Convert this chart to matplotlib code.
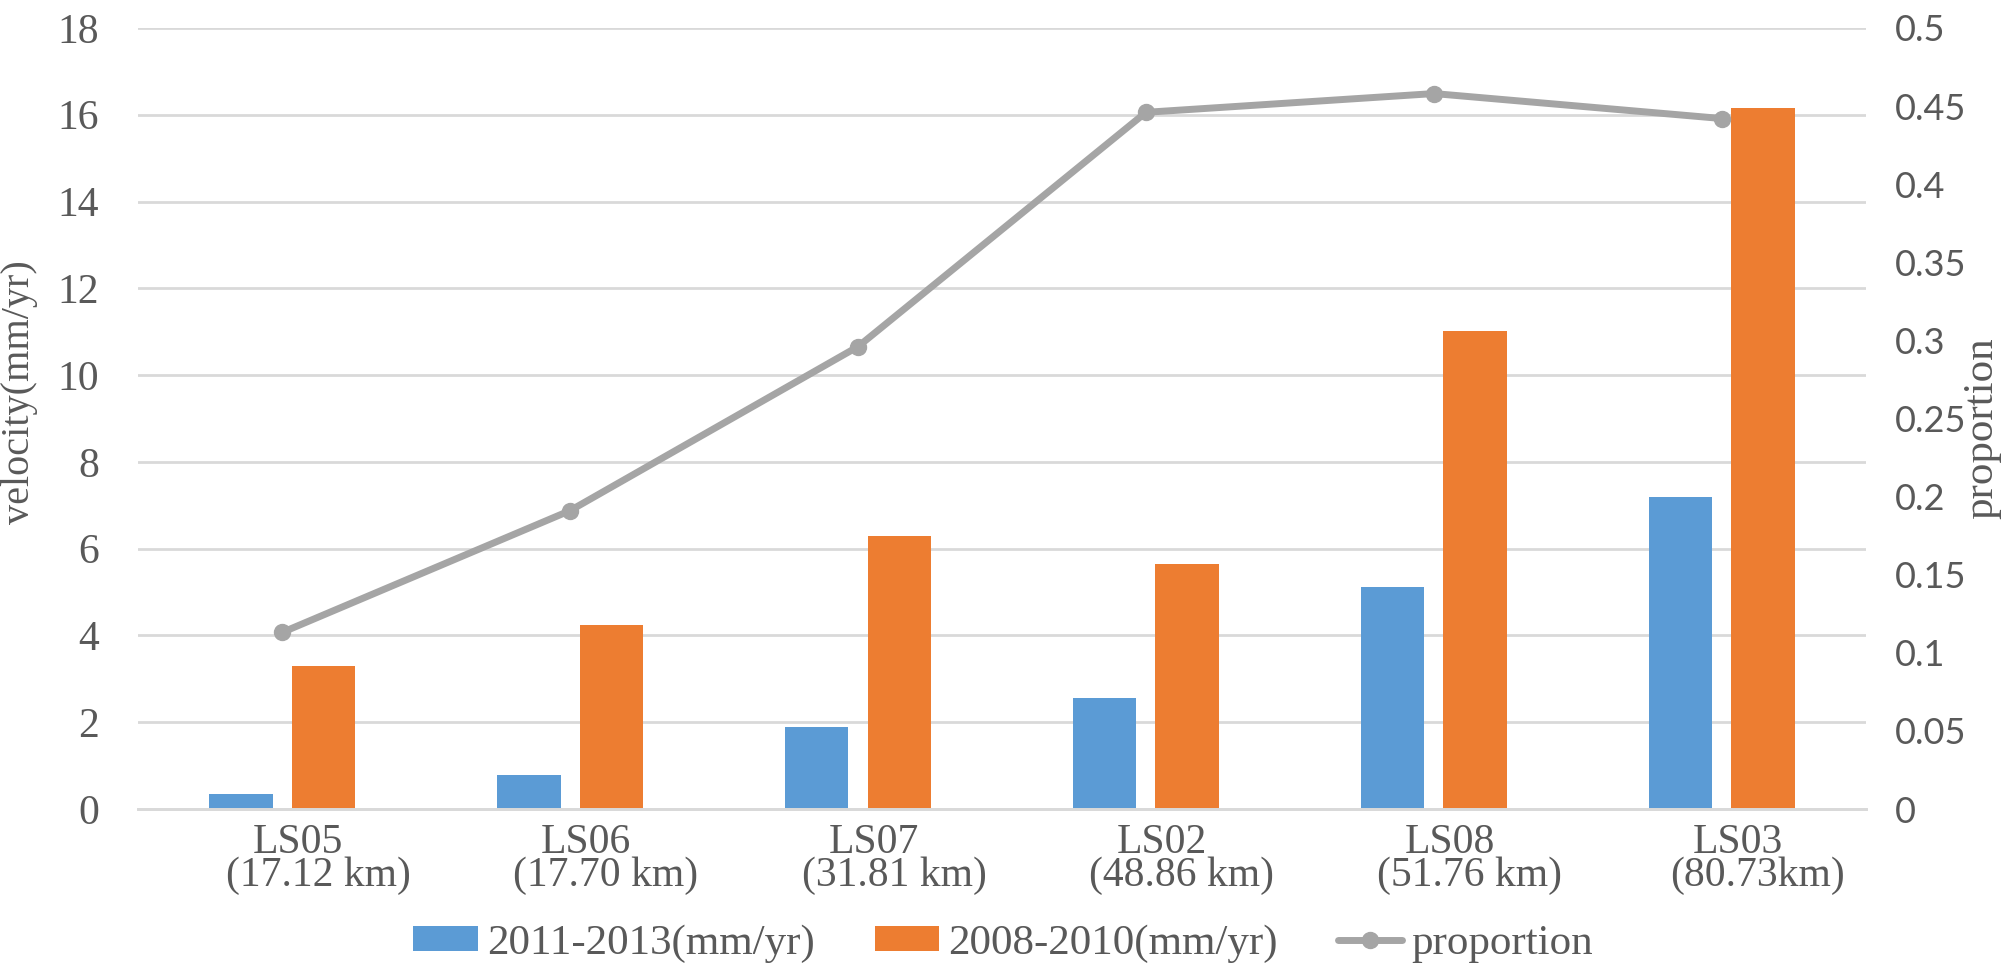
import numpy as np
import matplotlib
matplotlib.use('Agg')
import matplotlib.pyplot as plt
import matplotlib.transforms as mtransforms

# data
sites = ['LS05', 'LS06', 'LS07', 'LS02', 'LS08', 'LS03']
dists = ['(17.12 km)', '(17.70 km)', '(31.81 km)', '(48.86 km)', '(51.76 km)', '(80.73km)']
vel_2011_2013 = [0.35, 0.79, 1.88, 2.55, 5.12, 7.18]
vel_2008_2010 = [3.29, 4.24, 6.30, 5.65, 11.02, 16.15]
proportion = [0.113, 0.191, 0.296, 0.446, 0.458, 0.442]
left_ticks = [0, 2, 4, 6, 8, 10, 12, 14, 16, 18]
right_ticks = [0, 0.05, 0.1, 0.15, 0.2, 0.25, 0.3, 0.35, 0.4, 0.45, 0.5]

BLUE = '#5B9BD5'
ORANGE = '#ED7D31'
GRAY = '#A5A5A5'
TXT = '#595959'
GRID = '#D9D9D9'
SERIF = 'Liberation Serif'
SANS = 'Lato'

fig = plt.figure(figsize=(20.06, 9.74), dpi=100)
ax = fig.add_axes([0.0688, 0.1694, 0.8614, 0.8019])
ax2 = ax.twinx()

x = np.arange(len(sites))
w = 0.222
off = 0.144
ax.bar(x - off, vel_2011_2013, w, color=BLUE, label='2011-2013(mm/yr)', zorder=2)
ax.bar(x + off, vel_2008_2010, w, color=ORANGE, label='2008-2010(mm/yr)', zorder=2)

ax2.plot(x, proportion, color=GRAY, lw=5, marker='o', ms=11.5,
         solid_capstyle='round', label='proportion')

ax.set_xlim(-0.5, len(sites) - 0.5)
ax.set_ylim(0, 18)
ax2.set_ylim(0, 0.5)
ax.set_yticks(left_ticks)
ax.set_yticklabels([str(t) for t in left_ticks], family=SERIF, fontsize=30, color=TXT)
ax2.set_yticks(right_ticks)
ax2.set_yticklabels([f'{t:g}' for t in right_ticks], family=SANS, fontsize=26, color=TXT)
ax.tick_params(axis='y', length=0, pad=28)
ax2.tick_params(axis='y', length=0, pad=21)
ax.set_xticks([])

ax.yaxis.grid(True, color=GRID, lw=2)
ax.set_axisbelow(True)
for a in (ax, ax2):
    for s in ['top', 'left', 'right']:
        a.spines[s].set_visible(False)
    a.spines['bottom'].set_color(GRID)
    a.spines['bottom'].set_linewidth(2)

# axis titles
fig.text(20 / 2006, 1 - 392 / 974, 'velocity(mm/yr)', rotation=90, ha='center', va='center',
         family=SERIF, fontsize=29, color=TXT)
fig.text(1982 / 2006, 1 - 428 / 974, 'proportion', rotation=90, ha='center', va='center',
         family=SERIF, fontsize=31, color=TXT)

# two-line category labels
base = mtransforms.blended_transform_factory(ax.transData, fig.transFigure)
for i in range(len(sites)):
    ax.text(x[i], 1 - 853 / 974, sites[i],
            transform=base + mtransforms.ScaledTranslation(16 / 100, 0, fig.dpi_scale_trans),
            ha='center', va='baseline', family=SERIF, fontsize=30, color=TXT)
    ax.text(x[i], 1 - 886 / 974, dists[i],
            transform=base + mtransforms.ScaledTranslation(36 / 100, 0, fig.dpi_scale_trans),
            ha='center', va='baseline', family=SERIF, fontsize=30, color=TXT)

h1, l1 = ax.get_legend_handles_labels()
h2, l2 = ax2.get_legend_handles_labels()
leg = fig.legend(h1 + h2, l1 + l2, loc='center', bbox_to_anchor=(0.5, 0.031), ncol=3,
                 frameon=False, prop={'family': SERIF, 'size': 31},
                 handlelength=1.5, handleheight=0.5, handletextpad=0.2,
                 columnspacing=1.4, borderaxespad=0)
for t in leg.get_texts():
    t.set_color(TXT)

fig.savefig('out.png', dpi=100)
